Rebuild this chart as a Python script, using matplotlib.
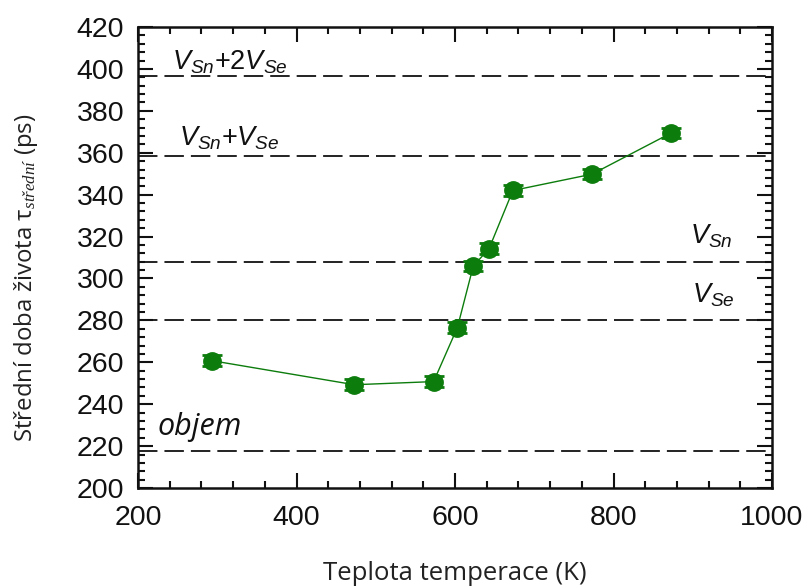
import matplotlib
matplotlib.use("Agg")
import matplotlib.pyplot as plt
from matplotlib.ticker import MultipleLocator

# ---- data ----
temperature = [293, 473, 573, 603, 623, 643, 673, 773, 873]
tau_mean = [260.8, 249.3, 250.8, 276.6, 305.9, 314.3, 342.0, 349.8, 369.5]
tau_err = [2.5, 2.5, 2.5, 2.5, 2.5, 2.5, 2.5, 2.5, 2.5]

ref_levels = [396.7, 358.6, 308.0, 280.0, 217.8]
ref_labels = [r"$V_{Sn}$+2$V_{Se}$", r"$V_{Sn}$+$V_{Se}$", r"$V_{Sn}$", r"$V_{Se}$", "objem"]
ref_label_x = [243, 252, 896, 899, 224]
ref_label_y = [403, 367, 320, 292, 229]

x_ticks = [200, 400, 600, 800, 1000]
y_ticks = list(range(200, 421, 20))

plt.rcParams['mathtext.fontset'] = 'custom'
plt.rcParams['mathtext.it'] = 'Liberation Sans:italic'
plt.rcParams['mathtext.rm'] = 'Liberation Sans'
plt.rcParams['mathtext.sf'] = 'Liberation Serif:italic'

fig = plt.figure(figsize=(8.03, 5.88), dpi=100)
ax = fig.add_axes([0.1719, 0.170, 0.7895, 0.784])

green = '#0c7c0c'
for lvl in ref_levels:
    ax.axhline(lvl, color='#222222', lw=1.4, dashes=(10, 3.6), zorder=1)

ax.errorbar(temperature, tau_mean, yerr=tau_err, fmt='o', color=green,
            ms=12.5, mfc=green, mec=green, ecolor=green, elinewidth=1.5,
            capsize=7.5, capthick=2, ls='-', lw=1.0, zorder=3)

for lab, lx, ly in zip(ref_labels, ref_label_x, ref_label_y):
    if lab == "objem":
        ax.text(lx, ly, lab, fontsize=22, style='italic', family='Open Sans',
                ha='left', va='center', color='#111111')
    else:
        ax.text(lx, ly, lab, fontsize=19.5, family='Liberation Sans',
                ha='left', va='center', color='#111111')

ax.set_xlim(200, 1000)
ax.set_ylim(200, 420)
ax.set_xticks(x_ticks)
ax.set_yticks(y_ticks)
ax.xaxis.set_minor_locator(MultipleLocator(40))
ax.yaxis.set_minor_locator(MultipleLocator(4))

ax.tick_params(which='both', direction='in', top=True, right=True, width=1.5, color='#111111')
ax.tick_params(which='major', length=11)
ax.tick_params(which='minor', length=5)
ax.tick_params(axis='x', which='major', pad=12, labelsize=20.5)
ax.tick_params(axis='y', which='major', pad=10, labelsize=20.5)
for lbl in ax.get_xticklabels() + ax.get_yticklabels():
    lbl.set_family('Liberation Sans')
    lbl.set_color('#111111')

for sp in ax.spines.values():
    sp.set_linewidth(1.8)
    sp.set_color('#111111')

ax.set_xlabel("Teplota temperace (K)", fontsize=18.5, family='Open Sans', labelpad=22, color='#222222')
ax.set_ylabel(r"Střední doba života τ$_{\mathsf{střední}}$ (ps)", fontsize=17.3,
              family='Open Sans', labelpad=26, color='#222222')
ax.yaxis.label.set_y(0.455)

fig.savefig("out.png", dpi=100)
